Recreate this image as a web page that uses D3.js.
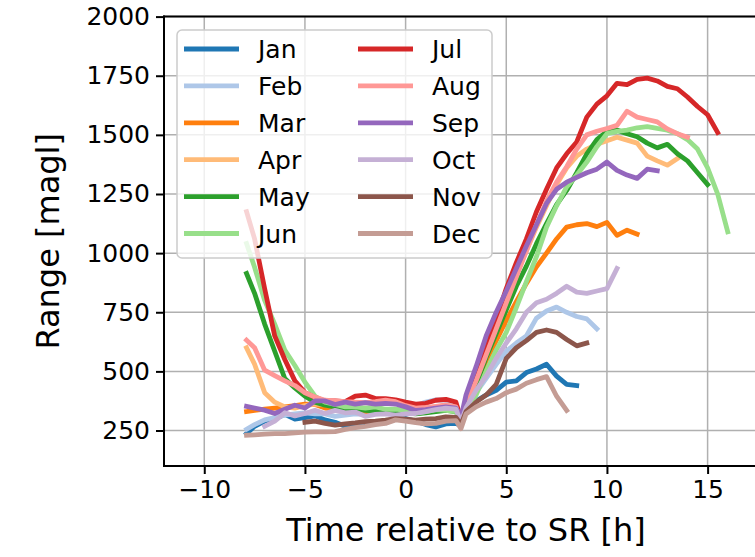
<!DOCTYPE html>
<html>
<head>
<meta charset="utf-8">
<script src="https://cdn.jsdelivr.net/npm/d3@7"></script>
<style>
  body { margin: 0; background: #fff; }
  text { font-family: "DejaVu Sans", sans-serif; fill: #000; }
</style>
</head>
<body>
<div id="chart"></div>
<script>
// hours relative to sunrise, shared by every month
var hours = [-7.9, -7.5, -7, -6.5, -6, -5.5, -5, -4.5, -4, -3.5, -3, -2.5, -2, -1.5, -1, -0.5,
    0, 0.5, 1, 1.5, 2, 2.5, 2.75, 3, 3.5, 4, 4.5, 5, 5.5, 6, 6.5, 7, 7.5, 8, 8.5, 9, 9.5,
    10, 10.5, 11, 11.5, 12, 12.5, 13, 13.5, 14, 14.5, 15, 15.5, 16];

var months = ['Jan', 'Feb', 'Mar', 'Apr', 'May', 'Jun', 'Jul', 'Aug', 'Sep', 'Oct', 'Nov', 'Dec'];
var colors = ['#1f77b4', '#aec7e8', '#ff7f0e', '#ffbb78', '#2ca02c', '#98df8a',
    '#d62728', '#ff9896', '#9467bd', '#c5b0d5', '#8c564b', '#c49c94'];

// range [magl], one value per entry of hours (null = no data)
var jan = [237, 268, 290, 300, 318, 298, 305, 312, 295, 285, 268, 275, 280, 285, 292, 296,
    300, 290, 275, 265, 278, 280, 270, 330, 375, 400, 420, 455, 460, 495, 510, 530, 480, 445, 440];
var feb = [255, 275, 295, 305, 315, 320, 325, 320, 320, 310, 315, 320, 318, 325, 330, 335,
    340, 355, 370, 380, 378, 360, 300, 345, 410, 470, 530, 585, 620, 650, 725, 755, 772, 750, 732, 722, 680];
var mar = [330, 335, 340, 345, 350, 355, 362, 360, 345, 340, 330, 330, 325, 330, 325, 320,
    330, 335, 345, 350, 355, 340, 305, 330, 440, 545, 630, 715, 795, 872, 942, 1000, 1060, 1110,
    1120, 1125, 1112, 1130, 1075, 1097, 1080];
var apr = [600, 530, 410, 370, 350, 345, 355, 362, 360, 352, 345, 340, 345, 338, 335, 340,
    335, 330, 340, 345, 350, 345, 300, 340, 460, 570, 680, 800, 910, 1010, 1110, 1200, 1290, 1360,
    1410, 1440, 1460, 1475, 1490, 1478, 1465, 1410, 1390, 1372, 1400];
var may = [914, 830, 700, 585, 470, 430, 395, 370, 357, 350, 340, 338, 335, 332, 325, 330,
    325, 320, 325, 330, 335, 330, 290, 350, 440, 560, 660, 760, 860, 945, 1040, 1125, 1205, 1265,
    1340, 1420, 1480, 1515, 1520, 1505, 1492, 1465, 1445, 1460, 1420, 1390, 1340, 1290];
var jun = [1041, 940, 800, 700, 590, 525, 455, 395, 370, 360, 350, 350, 345, 350, 340, 340,
    335, 325, 330, 338, 335, 330, 295, 330, 400, 500, 590, 665, 770, 880, 985, 1110, 1200, 1280,
    1330, 1385, 1450, 1505, 1515, 1520, 1530, 1535, 1527, 1520, 1505, 1480, 1440, 1360, 1250, 1090];
var jul = [1175, 1060, 850, 650, 550, 460, 410, 390, 375, 375, 372, 395, 400, 385, 385, 380,
    370, 362, 365, 378, 382, 370, 300, 370, 480, 600, 720, 850, 960, 1060, 1175, 1270, 1360, 1420,
    1470, 1575, 1630, 1665, 1718, 1712, 1735, 1740, 1728, 1705, 1695, 1660, 1620, 1585, 1510];
var aug = [632, 600, 505, 482, 460, 440, 410, 392, 378, 375, 372, 370, 368, 372, 378, 372,
    355, 345, 348, 352, 358, 350, 290, 360, 460, 570, 680, 790, 900, 1010, 1120, 1220, 1300, 1365,
    1440, 1500, 1515, 1527, 1540, 1600, 1575, 1565, 1555, 1525, 1505, 1490];
var sep = [352, 345, 336, 322, 340, 357, 345, 375, 375, 360, 370, 362, 368, 362, 365, 362,
    350, 335, 338, 345, 350, 345, 305, 400, 520, 650, 750, 840, 935, 1030, 1120, 1210, 1270, 1300,
    1320, 1340, 1355, 1385, 1350, 1330, 1316, 1355, 1348];
var oct = [null, null, 268, 290, 325, 312, 322, 336, 322, 335, 325, 328, 310, 318, 320, 315,
    320, 322, 330, 338, 345, 340, 285, 345, 420, 480, 555, 620, 680, 750, 790, 805, 830, 860,
    835, 830, 840, 850, 935];
var nov = [null, null, null, null, null, null, 285, 290, 280, 273, 278, 282, 288, 290, 294, 300,
    298, 294, 298, 300, 308, 305, 275, 330, 370, 400, 445, 555, 600, 630, 665, 675, 665, 635, 608, 620];
var dec = [230, 232, 235, 237, 237, 240, 243, 244, 244, 245, 255, 262, 268, 275, 280, 295,
    290, 283, 278, 280, 290, 292, 258, 320, 350, 370, 385, 410, 425, 450, 465, 478, 395, 335];

var xTicks = [-10, -5, 0, 5, 10, 15];
var yTicks = [250, 500, 750, 1000, 1250, 1500, 1750, 2000];

var series = [jan, feb, mar, apr, may, jun, jul, aug, sep, oct, nov, dec];

var svgWidth = 755;
var svgHeight = 557;

var margin = {
    top: 16.6,
    left: 164,
    bottom: 91
};

var width = 604;   // right spine falls just past the picture edge
var height = svgHeight - margin.top - margin.bottom;

var svg = d3.select('#chart')
    .append('svg')
    .attr('width', svgWidth)
    .attr('height', svgHeight);

var chartGroup = svg.append('g')
    .attr('transform', `translate(${margin.left},${margin.top})`);

var xScale = d3.scaleLinear()
    .domain([-12, 18])
    .range([0, width]);

var yScale = d3.scaleLinear()
    .domain([100, 2000])
    .range([height, 0]);

svg.append('defs').append('clipPath')
    .attr('id', 'plot-clip')
    .append('rect')
    .attr('width', width)
    .attr('height', height);

// grid
chartGroup.append('g')
    .selectAll('line')
    .data(xTicks)
    .enter()
    .append('line')
    .attr('x1', d => xScale(d))
    .attr('x2', d => xScale(d))
    .attr('y1', 0)
    .attr('y2', height)
    .attr('stroke', '#b0b0b0')
    .attr('stroke-width', 1.5);

chartGroup.append('g')
    .selectAll('line')
    .data(yTicks)
    .enter()
    .append('line')
    .attr('x1', 0)
    .attr('x2', width)
    .attr('y1', d => yScale(d))
    .attr('y2', d => yScale(d))
    .attr('stroke', '#b0b0b0')
    .attr('stroke-width', 1.5);

// month lines
var line = d3.line()
    .defined(d => d[1] !== null)
    .x(d => xScale(d[0]))
    .y(d => yScale(d[1]));

chartGroup.append('g')
    .attr('clip-path', 'url(#plot-clip)')
    .selectAll('path')
    .data(series)
    .enter()
    .append('path')
    .attr('d', vals => line(vals.map((v, i) => [hours[i], v])))
    .attr('fill', 'none')
    .attr('stroke', (d, i) => colors[i])
    .attr('stroke-width', 4.8)
    .attr('stroke-linejoin', 'round')
    .attr('stroke-linecap', 'square');

// axes
var bottomAxis = d3.axisBottom(xScale)
    .tickValues(xTicks)
    .tickSize(8)
    .tickPadding(6);

var leftAxis = d3.axisLeft(yScale)
    .tickValues(yTicks)
    .tickFormat(d3.format('d'))
    .tickSize(8)
    .tickPadding(6);

var xAxisG = chartGroup.append('g')
    .attr('transform', `translate(0, ${height})`)
    .call(bottomAxis);

var yAxisG = chartGroup.append('g')
    .call(leftAxis);

[xAxisG, yAxisG].forEach(function(g) {
    g.select('.domain').remove();
    g.selectAll('line').attr('stroke', '#000').attr('stroke-width', 2);
    g.selectAll('text')
        .style('font-family', '"DejaVu Sans", sans-serif')
        .style('font-size', '25px')
        .attr('fill', '#000');
});

// spines
chartGroup.append('line')
    .attr('x1', 0).attr('x2', 0).attr('y1', 0).attr('y2', height)
    .attr('stroke', '#000').attr('stroke-width', 2).attr('stroke-linecap', 'square');
chartGroup.append('line')
    .attr('x1', 0).attr('x2', width).attr('y1', height).attr('y2', height)
    .attr('stroke', '#000').attr('stroke-width', 2).attr('stroke-linecap', 'square');
chartGroup.append('line')
    .attr('x1', 0).attr('x2', width).attr('y1', 0).attr('y2', 0)
    .attr('stroke', '#000').attr('stroke-width', 2).attr('stroke-linecap', 'square');

// legend
var legend = svg.append('g')
    .attr('transform', 'translate(177, 30)');

legend.append('rect')
    .attr('width', 315)
    .attr('height', 228)
    .attr('rx', 5)
    .attr('fill', '#fff')
    .attr('fill-opacity', 0.8)
    .attr('stroke', '#cccccc')
    .attr('stroke-width', 1.5);

var items = legend.selectAll('.item')
    .data(months)
    .enter()
    .append('g')
    .attr('class', 'item')
    .attr('transform', (d, i) => `translate(${i < 6 ? 0 : 174}, ${19 + (i % 6) * 36.9})`);

items.append('line')
    .attr('x1', 7)
    .attr('x2', 62)
    .attr('stroke', (d, i) => colors[i])
    .attr('stroke-width', 4.8);

items.append('text')
    .attr('x', 81)
    .attr('dy', '0.36em')
    .style('font-size', '25px')
    .text(d => d);

// axes labels
svg.append('text')
    .attr('transform', `translate(59, ${margin.top + height / 2}) rotate(-90)`)
    .style('text-anchor', 'middle')
    .style('font-size', '32px')
    .text('Range [magl]');

svg.append('text')
    .attr('x', margin.left + width / 2)
    .attr('y', 541)
    .style('text-anchor', 'middle')
    .style('font-size', '32px')
    .text('Time relative to SR [h]');
</script>
</body>
</html>
